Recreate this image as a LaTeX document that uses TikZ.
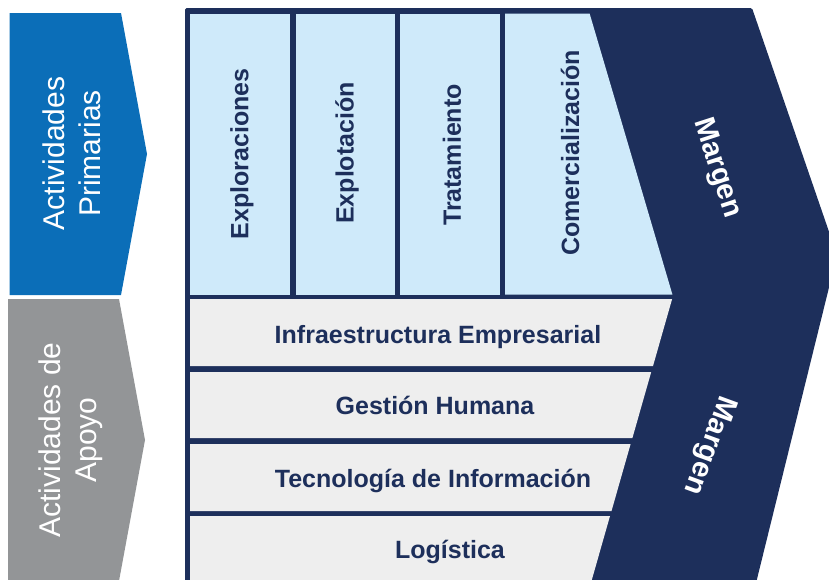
\documentclass[tikz,border=0pt]{standalone}
\usepackage{fontspec}
\setmainfont{Liberation Sans}
\definecolor{navy}{HTML}{1D2F5B}
\definecolor{cellblue}{HTML}{CFEAFA}
\definecolor{cellgray}{HTML}{EEEEEE}
\definecolor{primblue}{HTML}{0B6EB8}
\definecolor{supgray}{HTML}{939597}
\begin{document}
\begin{tikzpicture}[x=1pt,y=-1pt,
  celltext/.style={inner sep=0pt, text=navy, font=\fontsize{25}{30}\selectfont\bfseries},
  sidetext/.style={inner sep=0pt, text=white, align=center, font=\fontsize{30}{36}\selectfont},
  margtext/.style={inner sep=0pt, text=white, font=\fontsize{29}{34}\selectfont\bfseries},
  bluecell/.style={fill=cellblue},
  graycell/.style={fill=cellgray}]
\useasboundingbox (0,0) rectangle (829,579);
\clip (0,0) rectangle (829,579);
% side pentagons
\fill[primblue] (9.5,13) -- (121,13) -- (147,154) -- (121,295) -- (9.5,295) -- cycle;
\fill[supgray] (8,299) -- (119,299) -- (145,440) -- (119,581) -- (8,581) -- cycle;
% navy frame and margin chevron
\fill[navy, rounded corners=1.5pt] (185,8) -- (752,8) -- (837,255) -- (757,579) -- (755,590) -- (185,590) -- cycle;
% primary activity cells
\fill[bluecell] (190,13.5) rectangle (290,294.5);
\fill[bluecell] (296,13.5) rectangle (394.5,294.5);
\fill[bluecell] (400,13.5) rectangle (500,294.5);
\fill[bluecell] (505,13.5) -- (589.6,13.5) -- (672.4,294.5) -- (505,294.5) -- cycle;
% support activity rows
\fill[graycell] (190,299) -- (672.1,299) -- (653,366) -- (190,366) -- cycle;
\fill[graycell] (190,372) -- (651.2,372) -- (632.4,438) -- (190,438) -- cycle;
\fill[graycell] (190,444) -- (630.6,444) -- (611.5,511) -- (190,511) -- cycle;
\fill[graycell] (190,516) -- (610,516) -- (588.9,590) -- (190,590) -- cycle;
% texts
\node[sidetext, rotate=90] (prim) at (72,153.5) {Actividades\\Primarias};
\node[sidetext, rotate=90] (apoyo) at (71,440) {Actividades de\\Apoyo};
\node[celltext, rotate=90] (explor) at (242,154) {Exploraciones};
\node[celltext, rotate=90] (explot) at (347,153) {Explotación};
\node[celltext, rotate=90] (trat) at (452,155) {Tratamiento};
\node[celltext, rotate=90] (comer) at (570,153) {Comercialización};
\node[celltext, anchor=base] (infra) at (438,343) {Infraestructura Empresarial};
\node[celltext, anchor=base] (gest) at (435,414) {Gestión Humana};
\node[celltext, anchor=base] (tecn) at (433,487) {Tecnología de Información};
\node[celltext, anchor=base] (logi) at (450,558) {Logística};
\node[margtext, rotate=-72] (marg1) at (717,168) {Margen};
\node[margtext, rotate=-110] (marg2) at (709,445) {Margen};
\end{tikzpicture}
\end{document}
